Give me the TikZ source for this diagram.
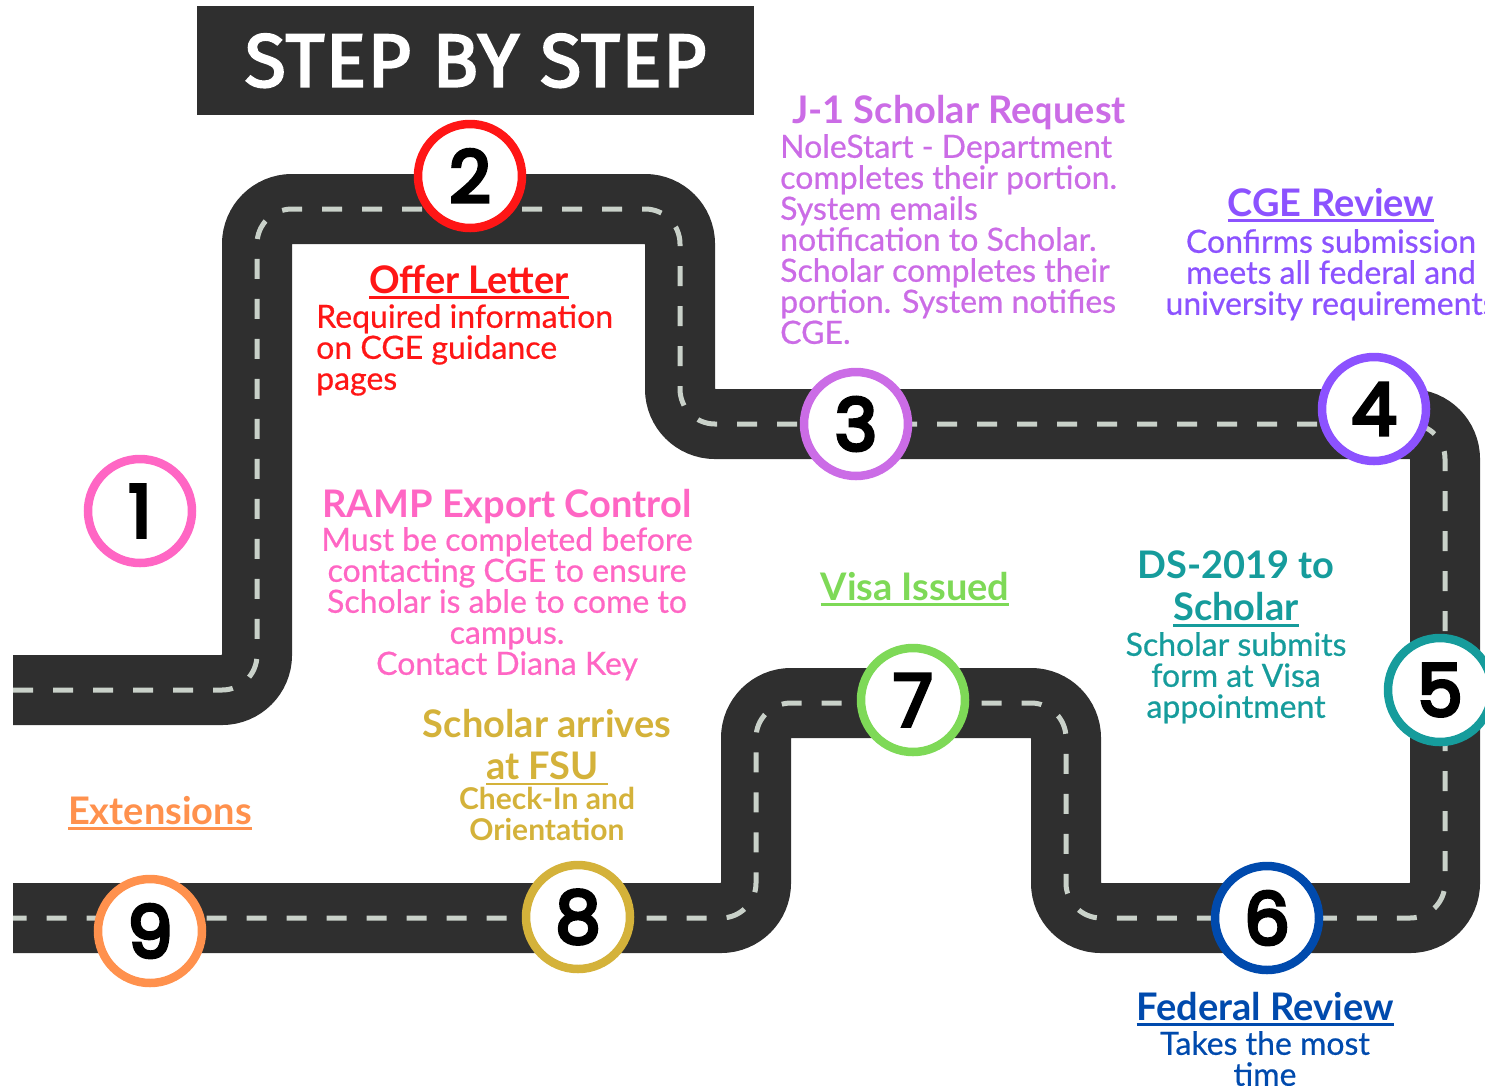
\documentclass[tikz,border=0pt]{standalone}
\usepackage{fontspec}
\setmainfont{Lato}[UprightFeatures={FakeBold=0.6}]
\newfontfamily\bannerfont{Fira Sans}[FakeBold=3,LetterSpace=2]
\newfontfamily\numfont{Poppins}[FakeBold=5]
\usetikzlibrary{positioning}

\definecolor{roadgray}{HTML}{2F2F2F}
\definecolor{lanegray}{HTML}{C9D1C9}
\definecolor{rampink}{HTML}{FF66C4}
\definecolor{offerred}{HTML}{FF1616}
\definecolor{jonepurple}{HTML}{CB6CE6}
\definecolor{cgepurple}{HTML}{8C52FF}
\definecolor{dsteal}{HTML}{169C9C}
\definecolor{fedblue}{HTML}{004AAD}
\definecolor{visagreen}{HTML}{7ED957}
\definecolor{fsugold}{HTML}{D4B23A}
\definecolor{extorange}{HTML}{FF914D}

% underline with a thick rule, in the current colour
\newcommand{\ulined}[1]{\leavevmode\vtop{\hbox{#1}\kern3pt\hrule height 2.5pt}}

\begin{document}
\begin{tikzpicture}[x=1pt,y=-1pt,
    every node/.style={inner sep=0pt},
    road/.style={line width=70pt,color=roadgray,rounded corners=35pt},
    lane/.style={line width=5pt,color=lanegray,dash pattern=on 20pt off 20pt,rounded corners=35pt},
    stepnum/.style={circle,draw=#1,line width=8.5pt,fill=white,minimum size=104pt,
        font=\numfont\fontsize{72}{72}\selectfont},
    head/.style={anchor=base,text=#1,font=\bfseries\fontsize{38}{42}\selectfont},
    blurb/.style={anchor=north,align=center,text=#1,font=\fontsize{32}{31}\selectfont}]
    \clip (0,0) rectangle (1485,1085);

    % banner
    \node[fill=roadgray,anchor=north west,minimum width=557pt,minimum height=109pt,
        text=white,font=\bannerfont\fontsize{75}{75}\selectfont] (banner) at (197,6) {STEP BY STEP};

    % the road and its dashed lane
    \draw[road] (13,690) -- (257,690) -- (257,209) -- (680,209) -- (680,424) -- (1445,424)
        -- (1445,918) -- (1066,918) -- (1066,703) -- (756,703) -- (756,918) -- (13,918);
    \draw[lane] (13,690) -- (257,690) -- (257,209) -- (680,209) -- (680,424) -- (1445,424)
        -- (1445,918) -- (1066,918) -- (1066,703) -- (756,703) -- (756,918) -- (13,918);

    % step markers
    \node[stepnum=rampink]    (s1) at (140,511) {1};
    \node[stepnum=offerred]   (s2) at (470,176) {2};
    \node[stepnum=jonepurple] (s3) at (856,424) {3};
    \node[stepnum=cgepurple]  (s4) at (1374,409) {4};
    \node[stepnum=dsteal]     (s5) at (1440,690) {5};
    \node[stepnum=fedblue]    (s6) at (1267,918) {6};
    \node[stepnum=visagreen]  (s7) at (913,700) {7};
    \node[stepnum=fsugold]    (s8) at (578,917) {8};
    \node[stepnum=extorange]  (s9) at (150,931) {9};

    % Offer Letter
    \node[head=offerred] (offer) at (469,293) {\ulined{Offer Letter}};
    \node[blurb=offerred,anchor=north west,align=left] (offertxt) at (316,304)
        {Required information\\on CGE guidance\\pages};

    % J-1 Scholar Request
    \node[head=jonepurple] (jone) at (959,123) {J-1 Scholar Request};
    \node[blurb=jonepurple,anchor=north west,align=left] (jonetxt) at (780,134)
        {NoleStart - Department\\completes their portion.\\System emails\\notification to Scholar.\\Scholar completes their\\portion. System notifies\\CGE.};

    % CGE Review
    \node[head=cgepurple] (cge) at (1331,216) {\ulined{CGE Review}};
    \node[blurb=cgepurple] (cgetxt) at (1331,229)
        {Confirms submission\\meets all federal and\\university requirements};

    % RAMP
    \node[head=rampink] (ramp) at (507,517) {RAMP Export Control};
    \node[blurb=rampink] (ramptxt) at (507,527)
        {Must be completed before\\contacting CGE to ensure\\Scholar is able to come to\\campus.\\Contact Diana Key};

    % Visa
    \node[head=visagreen] (visa) at (915,600) {\ulined{Visa Issued}};

    % DS-2019
    \node[head=dsteal,anchor=north,align=center] (ds) at (1236,551) {DS-2019 to\\\ulined{Scholar}};
    \node[blurb=dsteal] (dstxt) at (1236,632) {Scholar submits\\form at Visa\\appointment};

    % arrival
    \node[head=fsugold,anchor=north,align=center] (arrive) at (547,709) {Scholar arrives\\\ulined{at FSU\ }};
    \node[blurb=fsugold,font=\bfseries\fontsize{30}{31}\selectfont] (arrivetxt) at (547,787) {Check-In and\\Orientation};

    % Extensions
    \node[head=extorange] (ext) at (160,824) {\ulined{Extensions}};

    % Federal Review
    \node[head=fedblue] (fed) at (1265,1020) {\ulined{Federal Review}};
    \node[blurb=fedblue] (fedtxt) at (1265,1031) {Takes the most\\time};
\end{tikzpicture}
\end{document}
